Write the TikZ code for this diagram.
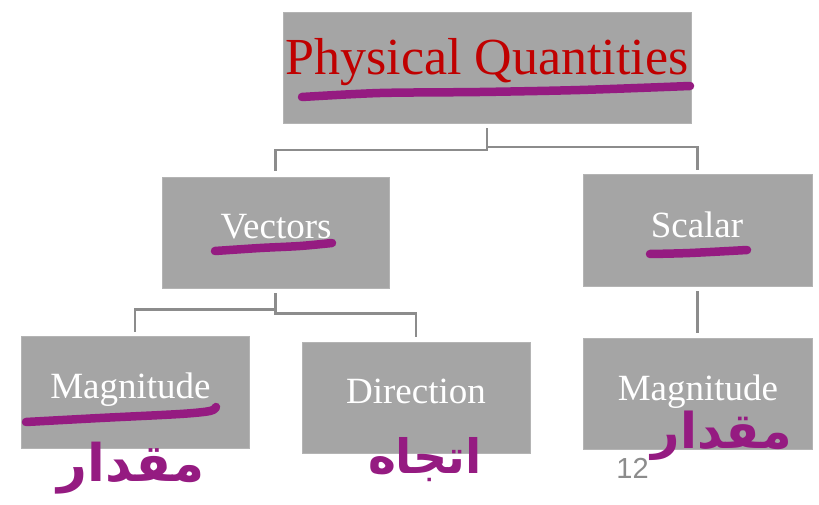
\documentclass[tikz,border=0pt]{standalone}
\usepackage{fontspec}
\setmainfont{Liberation Serif}
\newfontfamily\arabicfont[Script=Arabic]{DejaVu Sans}
\newfontfamily\numfont{Liberation Sans}
\TeXXeTstate=1
\usetikzlibrary{calc}
\definecolor{boxgray}{HTML}{A5A5A5}
\definecolor{boxedge}{HTML}{B4B4B4}
\definecolor{linegray}{HTML}{8C8C8C}
\definecolor{titlered}{HTML}{C00000}
\definecolor{ink}{HTML}{951B81}
\tikzset{
  box/.style={rectangle, fill=boxgray, draw=boxedge, line width=0.8pt, inner sep=0pt},
  lbl/.style={anchor=base, text=white, inner sep=0pt, font=\fontsize{37}{40}\selectfont},
  conn/.style={draw=linegray, line width=2.2pt},
  inkline/.style={draw=ink, line width=8.5pt, line cap=round, line join=round},
  inktext/.style={text=ink, inner sep=0pt}
}
\begin{document}
\begin{tikzpicture}[x=1pt,y=-1pt]
\useasboundingbox (0,0) rectangle (819,505);
% boxes
\node[box, minimum width=408pt, minimum height=111pt] (title) at (487,67.5) {};
\node[box, minimum width=227pt, minimum height=111pt] (vec) at (275.5,232.5) {};
\node[box, minimum width=229pt, minimum height=112pt] (sca) at (697.5,230) {};
\node[box, minimum width=228pt, minimum height=112pt] (mag1) at (135,392) {};
\node[box, minimum width=228pt, minimum height=111pt] (dir) at (416,397.5) {};
\node[box, minimum width=229pt, minimum height=111pt] (mag2) at (697.5,393.5) {};
% labels
\node[lbl, text=titlered, font=\fontsize{52}{56}\selectfont] (titlet) at (487,75) {Physical Quantities};
\node[lbl] (vect) at (276,238) {Vectors};
\node[lbl] (scat) at (697,237) {Scalar};
\node[lbl] (mag1t) at (130.5,398) {Magnitude};
\node[lbl] (dirt) at (416,403) {Direction};
\node[lbl] (mag2t) at (698,400) {Magnitude};
% connectors
\draw[conn] ([yshift=-5pt]title.south) -- ++(0,22) -| ([yshift=6pt]vec.north);
\draw[conn] ([yshift=-5pt]title.south) -- ++(0,19) -| ([yshift=4pt]sca.north);
\draw[conn] ([yshift=-5pt]vec.south) -- ++(0,16) -| ([yshift=4pt]mag1.north);
\draw[conn] ([yshift=-5pt]vec.south) -- ++(0,20) -| ([yshift=5pt]dir.north);
\draw[conn] ([yshift=-5pt]sca.south) -- ([yshift=5pt]mag2.north);
% page number
\node[anchor=base, text=linegray, inner sep=0pt, font=\numfont\fontsize{29}{32}\selectfont] (pagenum) at (632.5,478) {12};
% hand-drawn underlines
\draw[inkline] plot[smooth] coordinates {(302,97) (380,93) (480,92) (580,90) (690,86)};
\draw[inkline] plot[smooth] coordinates {(215,251) (260,248) (300,246) (332,243)};
\draw[inkline] plot[smooth] coordinates {(650,254) (690,253) (747,250)};
\draw[inkline] plot[smooth] coordinates {(26,422) (100,418) (180,414) (210,411) (216,407)};
% handwritten Arabic words
\node[inktext] (ar1) at (131,468) {\resizebox{147pt}{!}{\arabicfont\bfseries\beginR مقدار\endR}};
\node[inktext] (ar2) at (425,460) {\resizebox{114pt}{!}{\arabicfont\bfseries\beginR اتجاه\endR}};
\node[inktext] (ar3) at (722,436) {\resizebox{140pt}{!}{\arabicfont\bfseries\beginR مقدار\endR}};
\end{tikzpicture}
\end{document}
